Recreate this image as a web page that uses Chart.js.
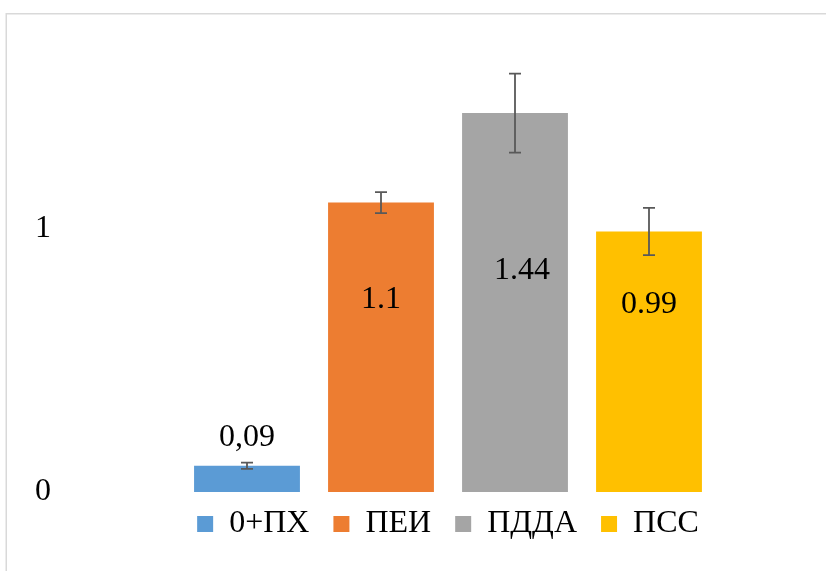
<!DOCTYPE html>
<html>
<head>
<meta charset="utf-8">
<script src="https://cdn.jsdelivr.net/npm/chart.js@4.4.1/dist/chart.umd.min.js"></script>
<style>
  html, body { margin: 0; padding: 0; background: #fff; }
  canvas { display: block; }
</style>
</head>
<body>
<canvas id="c" width="826" height="571"></canvas>
<script>
// ---- data ----
const categories = ['0+ПХ', 'ПЕИ', 'ПДДА', 'ПСС'];
const values = [0.1, 1.1, 1.44, 0.99];
const errors = [0.012, 0.04, 0.15, 0.09];
const valueLabels = ['0,09', '1.1', '1.44', '0.99'];
const colors = ['#5B9BD5', '#ED7D31', '#A5A5A5', '#FFC000'];
const yTickValues = [0, 1];

const FONT = '"Liberation Serif", "Times New Roman", serif';

// data label placement (style, in axis units / px offsets)
const labelStyle = {
  anchors: [0.207, 0.73, 0.84, 0.711],
  dx: [0, 0, 7, 0]
};

const framePlugin = {
  id: 'frame',
  beforeDraw(chart) {
    const ctx = chart.ctx;
    ctx.save();
    ctx.fillStyle = '#fff';
    ctx.fillRect(0, 0, chart.width, chart.height);
    ctx.strokeStyle = '#d9d9d9';
    ctx.lineWidth = 1.5;
    ctx.strokeRect(6.25, 13.75, chart.width + 20, chart.height + 20);
    ctx.restore();
  }
};

const errorBarPlugin = {
  id: 'errorBars',
  afterDatasetsDraw(chart) {
    const ctx = chart.ctx;
    const meta = chart.getDatasetMeta(0);
    const y = chart.scales.y;
    ctx.save();
    ctx.strokeStyle = '#595959';
    ctx.lineWidth = 1.8;
    meta.data.forEach((bar, i) => {
      const x = bar.x;
      const top = y.getPixelForValue(values[i] + errors[i]);
      const bot = y.getPixelForValue(values[i] - errors[i]);
      const cap = 6;
      ctx.beginPath();
      ctx.moveTo(x, top); ctx.lineTo(x, bot);
      ctx.moveTo(x - cap, top); ctx.lineTo(x + cap, top);
      ctx.moveTo(x - cap, bot); ctx.lineTo(x + cap, bot);
      ctx.stroke();
    });
    ctx.restore();
  }
};

const dataLabelPlugin = {
  id: 'dataLabels',
  afterDatasetsDraw(chart) {
    const ctx = chart.ctx;
    const meta = chart.getDatasetMeta(0);
    const y = chart.scales.y;
    ctx.save();
    ctx.fillStyle = '#000';
    ctx.font = '32px ' + FONT;
    ctx.textAlign = 'center';
    ctx.textBaseline = 'middle';
    meta.data.forEach((bar, i) => {
      ctx.fillText(valueLabels[i], bar.x + labelStyle.dx[i], y.getPixelForValue(labelStyle.anchors[i]));
    });
    ctx.restore();
  }
};

new Chart(document.getElementById('c'), {
  type: 'bar',
  data: {
    labels: categories,
    datasets: [{
      data: values,
      backgroundColor: colors,
      borderWidth: 0,
      categoryPercentage: 1,
      barPercentage: 0.79
    }]
  },
  options: {
    responsive: false,
    devicePixelRatio: 1,
    animation: false,
    layout: { padding: { left: 35, right: 110, top: 71, bottom: 21 } },
    plugins: {
      tooltip: { enabled: false },
      legend: {
        position: 'bottom',
        fullSize: false,
        labels: {
          boxWidth: 16,
          boxHeight: 16,
          padding: 16,
          color: '#000',
          font: { family: FONT, size: 32 },
          generateLabels() {
            return categories.map((c, i) => ({
              text: i < categories.length - 1 ? c + ' ' : c,
              fillStyle: colors[i], strokeStyle: colors[i],
              lineWidth: 0, hidden: false, index: i, datasetIndex: 0, fontColor: '#000'
            }));
          }
        },
        onClick() {}
      }
    },
    scales: {
      x: { display: false },
      y: {
        min: 0, max: 1.6,
        grid: { display: false },
        border: { display: false },
        ticks: {
          stepSize: 1,
          crossAlign: 'far',
          color: '#000',
          font: { family: FONT, size: 32 }
        },
        afterBuildTicks(scale) {
          scale.ticks = yTickValues.map(v => ({ value: v }));
        },
        afterFit(scale) { scale.width = 145; }
      }
    }
  },
  plugins: [framePlugin, errorBarPlugin, dataLabelPlugin]
});
</script>
</body>
</html>
